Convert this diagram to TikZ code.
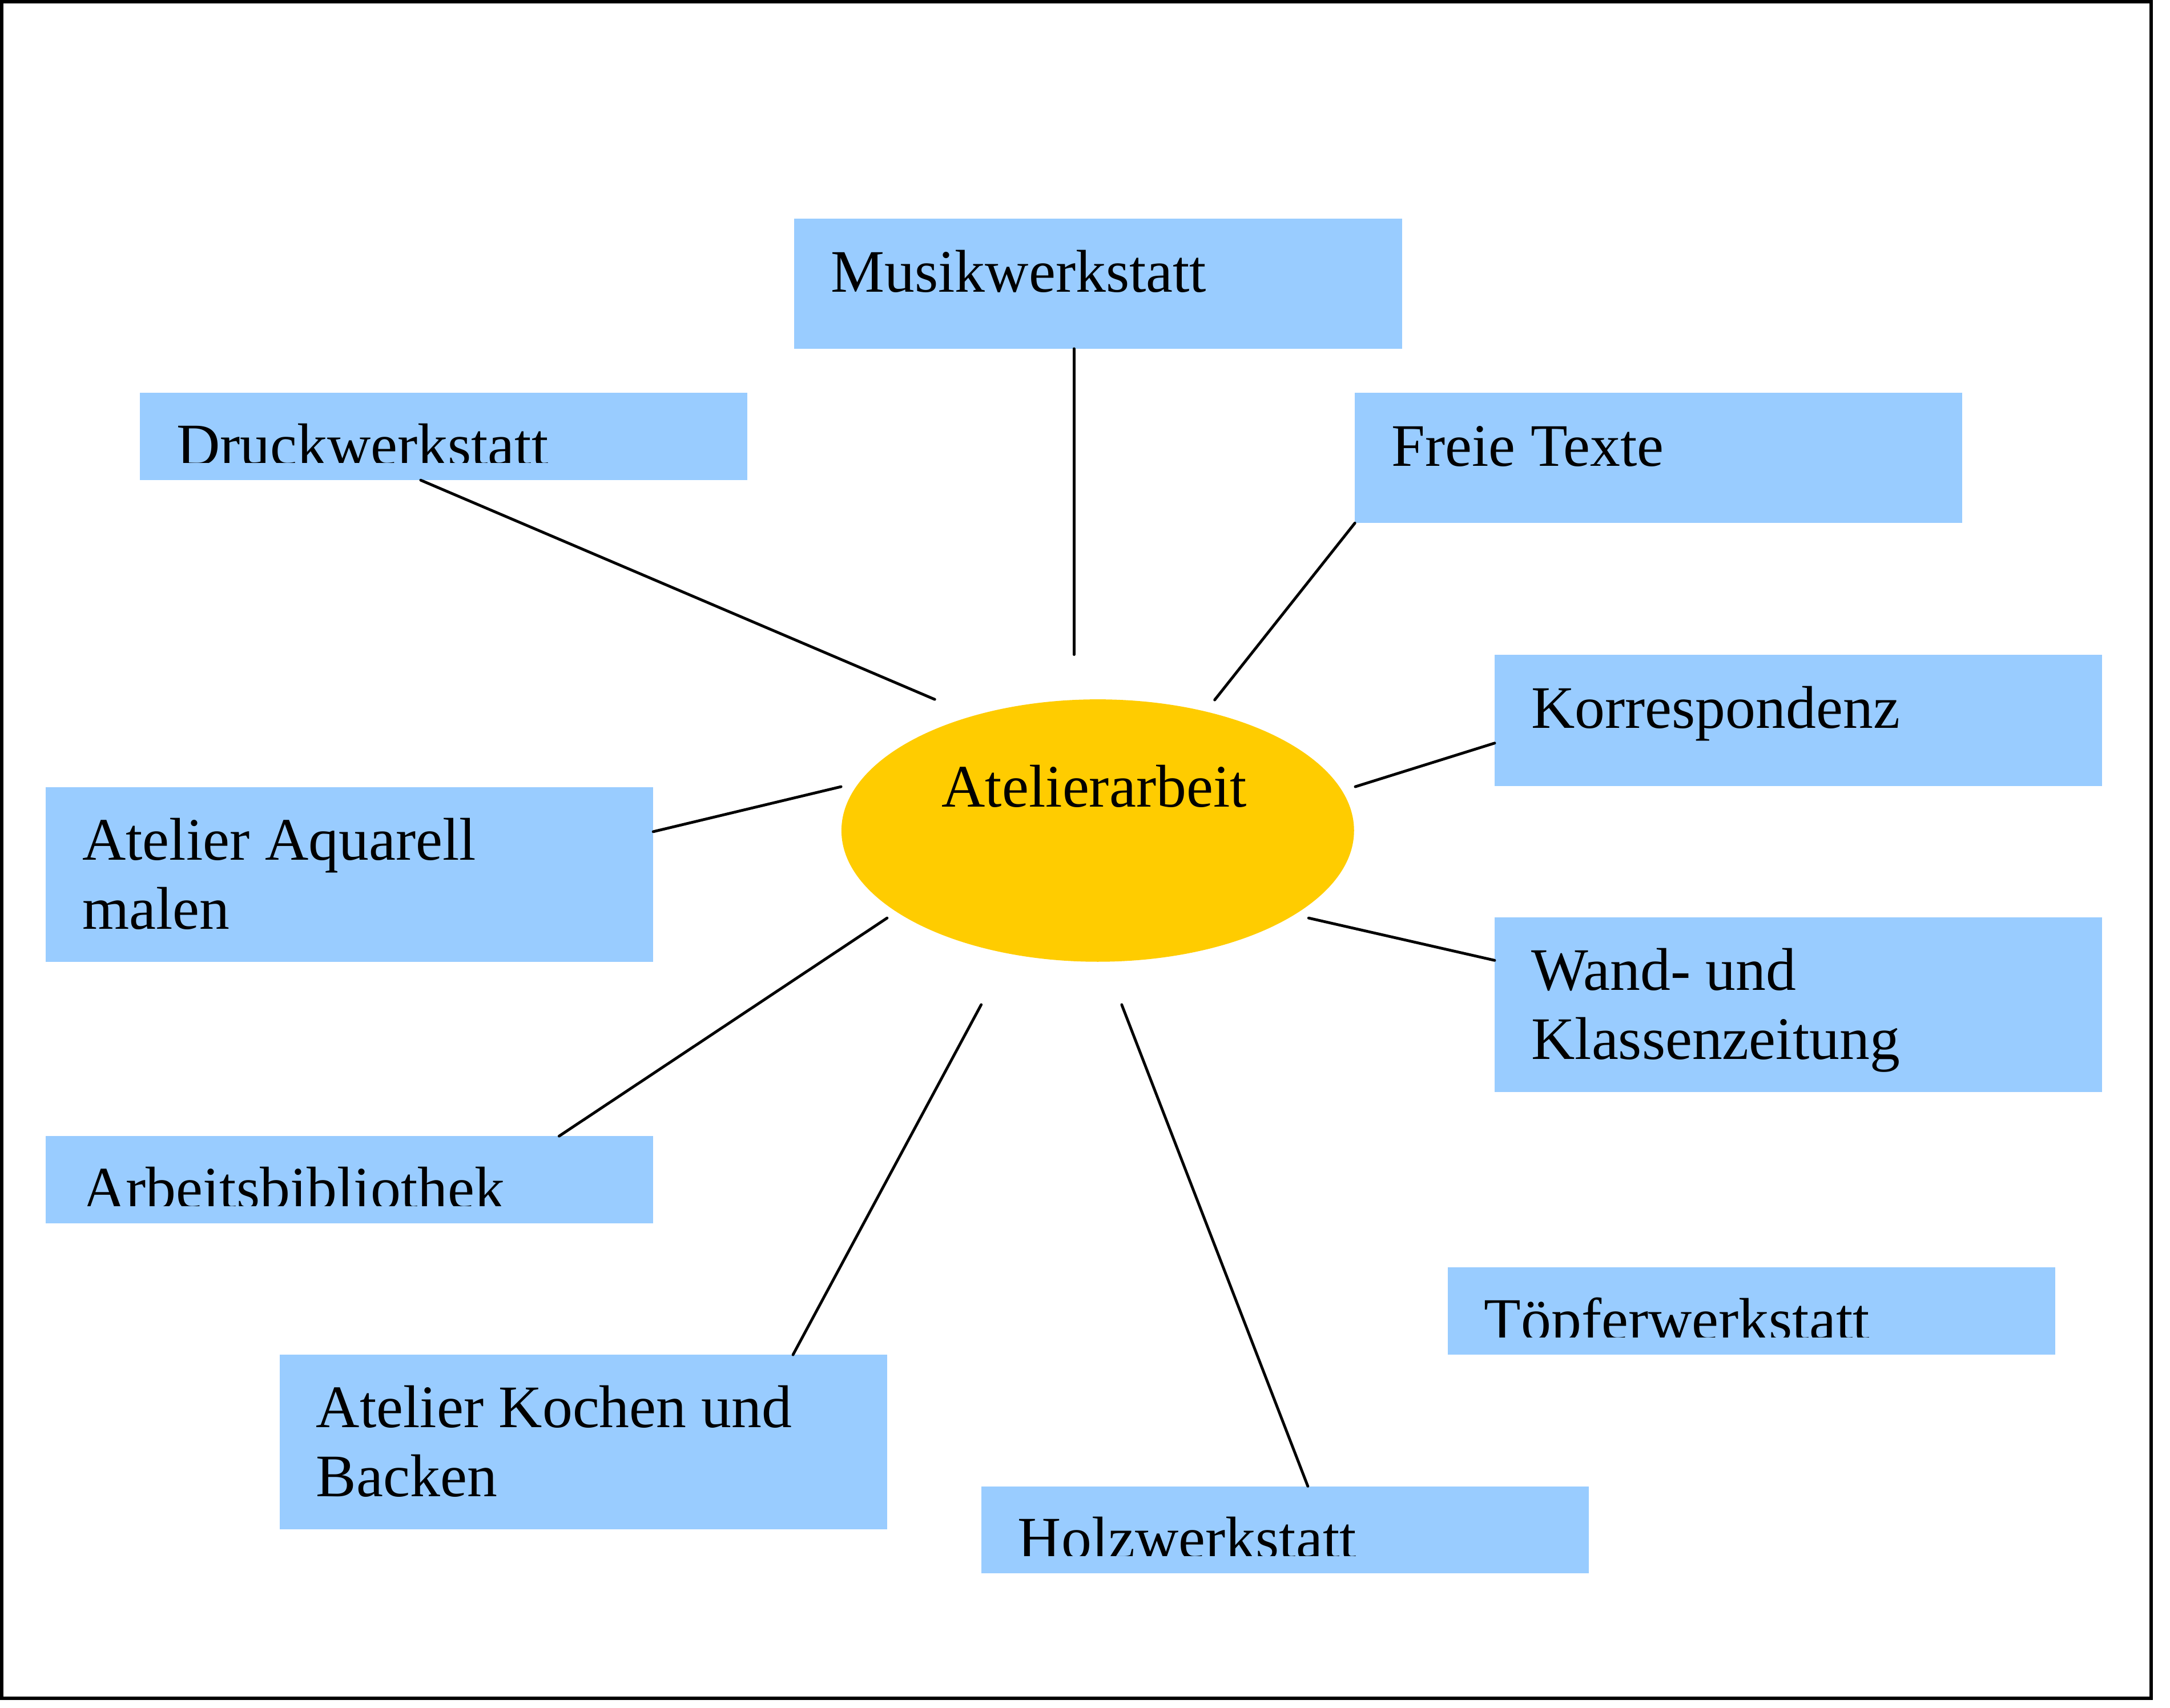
\documentclass[tikz,border=0pt]{standalone}
\usepackage{fontspec}
\setmainfont{Liberation Serif}
\usetikzlibrary{calc,shapes.geometric}
\definecolor{boxblue}{HTML}{99CCFF}
\definecolor{sunyellow}{HTML}{FFCC00}
\begin{document}
\begin{tikzpicture}[x=0.5pt,y=-0.5pt,
  boxst/.style={fill=boxblue, draw=none, inner sep=0pt, outer sep=0pt, anchor=north west, minimum width=219.5pt},
  onerow/.style={boxst, minimum height=47pt},
  cliprow/.style={boxst, minimum height=31.5pt},
  tworow/.style={boxst, minimum height=63pt},
  lbl/.style={inner sep=0pt, outer sep=0pt, anchor=base west, font=\fontsize{21.8pt}{25pt}\selectfont},
  conn/.style={line width=1pt, line cap=round},
]
\useasboundingbox (0,0) rectangle (1568,1234);
\draw[line width=1.25pt] (1.24,1.24) rectangle (1554.3,1227.1);

% centre
\node[ellipse, fill=sunyellow, draw=none, inner sep=0pt, minimum width=185.2pt, minimum height=94.8pt] (sun) at (793.2,600.2) {};
\node[lbl] (sunT) at ($(sun.center)+(-112.7,-17.2)$) {Atelierarbeit};

% boxes
\node[onerow] (musik) at (574,158) {};
\node[cliprow] (druck) at (101,284) {};
\node[onerow] (freie) at (979,284) {};
\node[onerow, minimum height=47.5pt] (korr) at (1080,473) {};
\node[tworow] (aquarell) at (33,569) {};
\node[tworow] (wand) at (1080,663) {};
\node[cliprow] (arbeit) at (33,821) {};
\node[cliprow] (toepfer) at (1046,916) {};
\node[tworow] (kochen) at (202,979) {};
\node[cliprow] (holz) at (709,1074) {};

% labels
\node[lbl] (musikT) at ($(musik.north west)+(26.5,53)$) {Musikwerkstatt};
\node[lbl] (freieT) at ($(freie.north west)+(26.5,53)$) {Freie Texte};
\node[lbl] (korrT) at ($(korr.north west)+(26.5,53)$) {Korrespondenz};
\node[lbl] (aquarellT) at ($(aquarell.north west)+(26.5,52.5)$) {\vtop{\hbox{Atelier Aquarell}\hbox{malen}}};
\node[lbl] (wandT) at ($(wand.north west)+(26.5,52.5)$) {\vtop{\hbox{Wand- und}\hbox{Klassenzeitung}}};
\node[lbl] (kochenT) at ($(kochen.north west)+(26.5,52.5)$) {\vtop{\hbox{Atelier Kochen und}\hbox{Backen}}};
\begin{scope}
  \clip (druck.north west) rectangle ($(druck.north east)+(0,50.5)$);
  \node[lbl] (druckT) at ($(druck.north west)+(26.5,52.5)$) {Druckwerkstatt};
\end{scope}
\begin{scope}
  \clip (arbeit.north west) rectangle ($(arbeit.north east)+(0,50.5)$);
  \node[lbl] (arbeitT) at ($(arbeit.north west)+(26.5,52.5)$) {Arbeitsbibliothek};
\end{scope}
\begin{scope}
  \clip (toepfer.north west) rectangle ($(toepfer.north east)+(0,50.5)$);
  \node[lbl] (toepferT) at ($(toepfer.north west)+(26.5,52.5)$) {Töpferwerkstatt};
\end{scope}
\begin{scope}
  \clip (holz.north west) rectangle ($(holz.north east)+(0,50.5)$);
  \node[lbl] (holzT) at ($(holz.north west)+(26.5,52.5)$) {Holzwerkstatt};
\end{scope}

% free ends near the centre
\coordinate (eMusik) at (776,473);
\coordinate (eDruck) at (675.4,505.4);
\coordinate (eFreie) at (877.7,505.8);
\coordinate (eKorr) at (979.3,568.5);
\coordinate (eAquarell) at (607.7,568.5);
\coordinate (eWand) at (945.6,663.4);
\coordinate (eArbeit) at (641,663.4);
\coordinate (eKochen) at (709,726);
\coordinate (eHolz) at (810.5,726);

% connectors
\draw[conn] ($(musik.south west)+(202,0)$) -- (eMusik);
\draw[conn] ($(druck.south west)+(203,0)$) -- (eDruck);
\draw[conn] (freie.south west) -- (eFreie);
\draw[conn] ($(korr.north west)+(0,64)$) -- (eKorr);
\draw[conn] ($(aquarell.north east)+(0,32)$) -- (eAquarell);
\draw[conn] ($(wand.north west)+(0,31)$) -- (eWand);
\draw[conn] ($(arbeit.north west)+(371,0)$) -- (eArbeit);
\draw[conn] ($(kochen.north west)+(371,0)$) -- (eKochen);
\draw[conn] ($(holz.north west)+(236,0)$) -- (eHolz);
\end{tikzpicture}
\end{document}
